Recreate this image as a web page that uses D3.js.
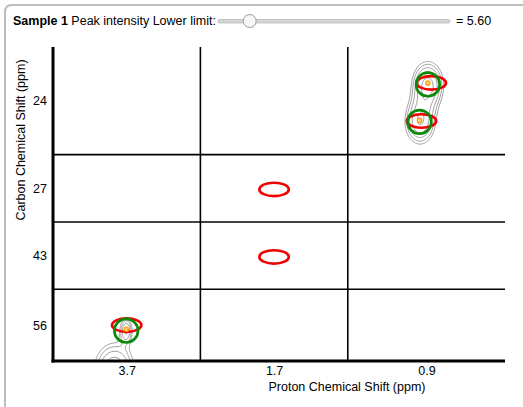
<!DOCTYPE html>
<html>
<head>
<meta charset="utf-8">
<script src="https://cdn.jsdelivr.net/npm/d3@7"></script>
<style>
  body { margin: 0; background: #fff; }
  svg { display: block; font-family: "Liberation Sans", Arial, Helvetica, sans-serif; }
</style>
</head>
<body>
<div id="chart"></div>
<script>
// Strip columns (proton, ppm) and rows (carbon, ppm)
const protonLabels = ["3.7", "1.7", "0.9"];
const protonCenters = [3.70, 1.70, 0.90];
const protonSpans = [0.30, 0.30, 0.32];
const carbonLabels = ["24", "27", "43", "56"];
const carbonCenters = [24.0, 27.0, 43.0, 56.0];
const carbonSpans = [4.8, 3.0, 3.0, 3.2];

// Expected peak positions (red windows)
const expectedH = [0.890, 0.910, 1.700, 1.700, 3.700];
const expectedC = [23.20, 24.90, 27.05, 43.06, 56.00];

// Peaks picked in the spectrum (green + orange)
const foundH = [0.897, 0.914, 3.701];
const foundC = [23.27, 24.94, 56.25];

// Spectrum components used for the contour plot
const specH   = [0.897, 0.913, 3.701, 3.725];
const specC   = [23.29, 24.94, 56.21, 58.00];
const specAmp = [17.0, 15.2, 11.5, 15.0];
const specWH  = [0.0215, 0.0215, 0.0090, 0.0290];
const specWC  = [0.70, 0.70, 0.40, 0.85];
const contourLevels = [5.6, 7.2, 9.3, 12.0, 15.5];

// Slider
const lowerLimit = 5.60;
const sliderDomain = [0, 48];

const W = 523, H = 407;
const plot = { left: 53, right: 505, top: 47, bottom: 361 };
const tolH = 0.030, tolC = 0.30;
const fontSize = 12.5;

const svg = d3.select("#chart").append("svg")
    .attr("width", W)
    .attr("height", H);

// panel frame
svg.append("path")
    .attr("d", `M5,${H + 10} V12 Q5,5 12,5 H${W + 10}`)
    .attr("fill", "none")
    .attr("stroke", "#bdbdbd")
    .attr("stroke-width", 2);

// header
const header = svg.append("text")
    .attr("x", 13)
    .attr("y", 25)
    .attr("font-size", fontSize)
    .attr("fill", "#000");
header.append("tspan").attr("font-weight", "bold").text("Sample 1");
header.append("tspan").text(" Peak intensity Lower limit:");

const sliderX = d3.scaleLinear().domain(sliderDomain).range([224, 444]);
svg.append("rect")
    .attr("x", 218).attr("y", 19.5)
    .attr("width", 232).attr("height", 3.5)
    .attr("rx", 1.5)
    .attr("fill", "#d6d6d6")
    .attr("stroke", "#a8a8a8")
    .attr("stroke-width", 0.6);
svg.append("circle")
    .attr("cx", sliderX(lowerLimit)).attr("cy", 21)
    .attr("r", 6.5)
    .attr("fill", "#f6f6f6")
    .attr("stroke", "#9a9a9a")
    .attr("stroke-width", 1);
svg.append("text")
    .attr("x", 456).attr("y", 25)
    .attr("font-size", fontSize)
    .text("= " + d3.format(".2f")(lowerLimit));

// column / row layout from the ppm spans
const pxPerH = (plot.right - plot.left) / d3.sum(protonSpans);
const pxPerC = (plot.bottom - plot.top) / d3.sum(carbonSpans);

const cols = protonCenters.map((c, i) => {
    const x0 = plot.left + d3.sum(protonSpans.slice(0, i)) * pxPerH;
    const x1 = x0 + protonSpans[i] * pxPerH;
    return { label: protonLabels[i], center: c, span: protonSpans[i], x0, x1,
             scale: d3.scaleLinear().domain([c + protonSpans[i] / 2, c - protonSpans[i] / 2]).range([x0, x1]) };
});
const rows = carbonCenters.map((c, i) => {
    const y0 = plot.top + d3.sum(carbonSpans.slice(0, i)) * pxPerC;
    const y1 = y0 + carbonSpans[i] * pxPerC;
    return { label: carbonLabels[i], center: c, span: carbonSpans[i], y0, y1,
             scale: d3.scaleLinear().domain([c - carbonSpans[i] / 2, c + carbonSpans[i] / 2]).range([y0, y1]) };
});

const colOf = h => cols.find(c => Math.abs(h - c.center) <= c.span / 2);
const rowOf = v => rows.find(r => Math.abs(v - r.center) <= r.span / 2);
// each spectrum component belongs to the strip nearest to it
const nearestCol = h => d3.minIndex(cols, c => Math.abs(h - c.center));
const nearestRow = v => d3.minIndex(rows, r => Math.abs(v - r.center));

// contours, one grid per panel
const defs = svg.append("defs");
const contourG = svg.append("g");
cols.forEach((col, ci) => {
    rows.forEach((row, ri) => {
        const comps = specH.map((h, k) => k)
            .filter(k => nearestCol(specH[k]) === ci && nearestRow(specC[k]) === ri);
        if (!comps.length) return;
        const nx = Math.ceil(col.x1 - col.x0), ny = Math.ceil(row.y1 - row.y0);
        const values = new Float64Array(nx * ny);
        for (let j = 0; j < ny; j++) {
            const cppm = row.scale.invert(row.y0 + j);
            for (let i = 0; i < nx; i++) {
                const hppm = col.scale.invert(col.x0 + i);
                let v = 0;
                comps.forEach(k => {
                    const dh = (hppm - specH[k]) / specWH[k];
                    const dc = (cppm - specC[k]) / specWC[k];
                    v += specAmp[k] * Math.exp(-0.5 * (dh * dh + dc * dc));
                });
                values[j * nx + i] = v;
            }
        }
        const id = `clip-${ci}-${ri}`;
        defs.append("clipPath").attr("id", id)
            .append("rect")
            .attr("x", col.x0).attr("y", row.y0)
            .attr("width", col.x1 - col.x0).attr("height", row.y1 - row.y0);
        const proj = d3.geoTransform({
            point: function (x, y) { this.stream.point(col.x0 + x - 0.5, row.y0 + y - 0.5); }
        });
        contourG.append("g")
            .attr("clip-path", `url(#${id})`)
            .selectAll("path")
            .data(d3.contours().size([nx, ny]).thresholds(contourLevels)(values))
            .join("path")
            .attr("d", d3.geoPath(proj))
            .attr("fill", "none")
            .attr("stroke", "#8c8c8c")
            .attr("stroke-width", 0.8);
    });
});

// grid separators
svg.append("g").selectAll("line")
    .data(cols.slice(1))
    .join("line")
    .attr("x1", d => d.x0).attr("x2", d => d.x0)
    .attr("y1", plot.top).attr("y2", plot.bottom)
    .attr("stroke", "#000").attr("stroke-width", 1.6);
svg.append("g").selectAll("line")
    .data(rows.slice(1))
    .join("line")
    .attr("x1", plot.left).attr("x2", plot.right)
    .attr("y1", d => d.y0).attr("y2", d => d.y0)
    .attr("stroke", "#000").attr("stroke-width", 1.6);

// expected windows
svg.append("g").selectAll("ellipse")
    .data(expectedH.map((h, i) => ({ h, c: expectedC[i] })))
    .join("ellipse")
    .attr("cx", d => colOf(d.h).scale(d.h))
    .attr("cy", d => rowOf(d.c).scale(d.c))
    .attr("rx", tolH * pxPerH)
    .attr("ry", tolC * pxPerC)
    .attr("fill", "none")
    .attr("stroke", "#f20000")
    .attr("stroke-width", 2.6);

// picked peaks
const found = foundH.map((h, i) => ({ h, c: foundC[i] }));
svg.append("g").selectAll("circle")
    .data(found)
    .join("circle")
    .attr("cx", d => colOf(d.h).scale(d.h))
    .attr("cy", d => rowOf(d.c).scale(d.c))
    .attr("r", 11.8)
    .attr("fill", "none")
    .attr("stroke", "#0a8a0a")
    .attr("stroke-width", 2.7);
svg.append("g").selectAll("circle")
    .data(found)
    .join("circle")
    .attr("cx", d => colOf(d.h).scale(d.h))
    .attr("cy", d => rowOf(d.c).scale(d.c) - 1.5)
    .attr("r", 2.2)
    .attr("fill", "#ffd27a")
    .attr("stroke", "#ff9a00")
    .attr("stroke-width", 1.2);

// axes
const xTicks = d3.scaleOrdinal(protonLabels, cols.map(c => (c.x0 + c.x1) / 2));
const yTicks = d3.scaleOrdinal(carbonLabels, rows.map(r => (r.y0 + r.y1) / 2));

const xAxis = svg.append("g")
    .attr("transform", `translate(0,${plot.bottom})`)
    .call(d3.axisBottom(xTicks).tickSize(0).tickPadding(5));
const yAxis = svg.append("g")
    .attr("transform", `translate(${plot.left},0)`)
    .call(d3.axisLeft(yTicks).tickSize(0).tickPadding(6));
[xAxis, yAxis].forEach(g => {
    g.select(".domain").remove();
    g.selectAll("text")
        .attr("font-size", fontSize)
        .attr("font-family", "Liberation Sans, Arial, sans-serif")
        .attr("fill", "#000");
});

svg.append("line")
    .attr("x1", plot.left).attr("x2", plot.left)
    .attr("y1", plot.top).attr("y2", plot.bottom + 1.5)
    .attr("stroke", "#000").attr("stroke-width", 3);
svg.append("line")
    .attr("x1", plot.left - 1.5).attr("x2", plot.right)
    .attr("y1", plot.bottom).attr("y2", plot.bottom)
    .attr("stroke", "#000").attr("stroke-width", 3);

svg.append("text")
    .attr("x", 347).attr("y", 391)
    .attr("text-anchor", "middle")
    .attr("font-size", fontSize)
    .text("Proton Chemical Shift (ppm)");
svg.append("text")
    .attr("transform", "translate(25,140) rotate(-90)")
    .attr("text-anchor", "middle")
    .attr("font-size", fontSize)
    .text("Carbon Chemical Shift (ppm)");
</script>
</body>
</html>
